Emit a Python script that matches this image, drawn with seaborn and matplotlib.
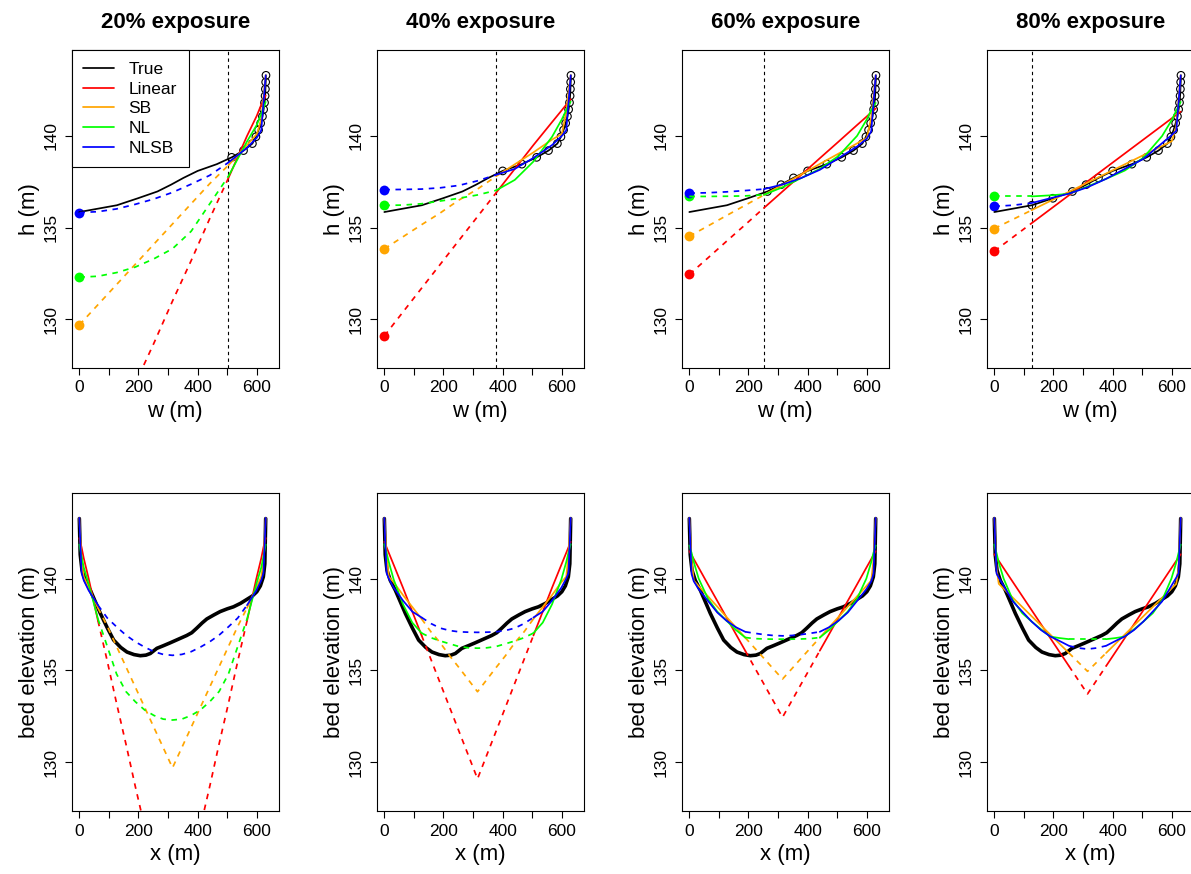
import numpy as np
import pandas as pd
import matplotlib
matplotlib.use("Agg")
import matplotlib.pyplot as plt
import seaborn as sns

sns.set_style("ticks")
plt.rcParams['font.family'] = ['Liberation Sans', 'DejaVu Sans']
plt.rcParams['axes.edgecolor'] = 'black'
plt.rcParams['text.color'] = 'black'
plt.rcParams['axes.labelcolor'] = 'black'
plt.rcParams['xtick.color'] = 'black'
plt.rcParams['ytick.color'] = 'black'

# ---------------- data ----------------
exposures = ["20% exposure", "40% exposure", "60% exposure", "80% exposure"]
thresholds = [504, 378, 252, 126]          # lower limit of observed width (m)
channel_center = 315                       # half of the 630 m channel

# true width-height relation (observed points)
true_w = [0, 127, 198, 264, 310, 352, 400, 465, 515, 555, 585, 597, 606, 613,
          619, 623, 626, 628, 629, 630, 631]
true_h = [135.85, 136.22, 136.60, 136.97, 137.34, 137.71, 138.09, 138.46, 138.83,
          139.20, 139.58, 139.95, 140.32, 140.69, 141.06, 141.44, 141.81, 142.18,
          142.55, 142.93, 143.30]

# true bed profile
prof_x = [0, 3, 9, 20, 37, 55, 71, 95, 116, 140, 161, 185, 206, 225, 240, 262, 285,
          307, 335, 363, 380, 397, 415, 431, 455, 476, 500, 521, 545, 566, 585, 600,
          612, 622, 627, 630]
prof_z = [143.26, 141.3, 140.45, 139.9, 139.37, 138.7, 138.1, 137.3, 136.65, 136.25,
          136.0, 135.86, 135.8, 135.83, 135.92, 136.2, 136.35, 136.5, 136.7, 136.9,
          137.05, 137.3, 137.58, 137.8, 138.02, 138.2, 138.35, 138.46, 138.65, 138.86,
          139.05, 139.28, 139.6, 140.09, 140.8, 143.26]

# model width grid
w_grid = [0, 63, 126, 189, 252, 315, 378, 441, 504, 567, 600, 615, 630]

linear_20 = [119.8, 122.0, 124.3, 126.5, 128.7, 131.0, 133.2, 135.5, 137.7, 140.0, 141.1, 141.7, 142.2]
sb_20 = [129.7, 130.8, 131.9, 133.0, 134.1, 135.2, 136.3, 137.4, 138.4, 139.5, 140.1, 140.9, 143.3]
nl_20 = [132.3, 132.35, 132.55, 132.85, 133.3, 133.85, 134.8, 136.3, 137.8, 139.7, 140.6, 141.2, 141.85]
nlsb_20 = [135.82, 135.87, 136.02, 136.27, 136.56, 136.92, 137.37, 137.85, 138.55, 139.35, 139.9, 140.3, 143.3]

linear_40 = [129.1, 130.4, 131.7, 133.0, 134.3, 135.6, 136.9, 138.2, 139.5, 140.75, 141.4, 141.7, 142.0]
sb_40 = [133.84, 134.5, 135.16, 135.8, 136.5, 137.1, 137.8, 138.45, 139.1, 139.8, 140.1, 141.3, 143.3]
nl_40 = [136.21, 136.23, 136.3, 136.45, 136.6, 136.78, 137.03, 137.6, 138.6, 139.95, 140.9, 141.4, 141.87]
nlsb_40 = [137.07, 137.08, 137.1, 137.17, 137.3, 137.55, 137.88, 138.2, 138.8, 139.5, 140.0, 140.3, 143.3]

linear_60 = [132.45, 133.35, 134.26, 135.16, 136.07, 136.97, 137.87, 138.78, 139.68, 140.59, 141.06, 141.28, 141.49]
sb_60 = [134.53, 135.09, 135.66, 136.22, 136.78, 137.34, 137.9, 138.47, 139.03, 139.59, 139.89, 141.0, 143.3]
nl_60 = [136.7, 136.7, 136.71, 136.73, 136.79, 137.2, 137.7, 138.2, 138.9, 140.0, 140.9, 141.4, 141.8]
nlsb_60 = [136.88, 136.9, 136.95, 137.02, 137.1, 137.35, 137.7, 138.15, 138.78, 139.42, 139.85, 140.25, 143.3]

linear_80 = [133.72, 134.48, 135.24, 136.0, 136.76, 137.52, 138.28, 139.04, 139.8, 140.56, 140.96, 141.14, 141.32]
sb_80 = [134.95, 135.45, 135.95, 136.45, 136.95, 137.45, 137.95, 138.45, 138.95, 139.45, 139.71, 140.54, 143.3]
nl_80 = [136.7, 136.7, 136.7, 136.76, 136.84, 137.24, 137.66, 138.11, 138.81, 139.99, 140.87, 141.37, 141.85]
nlsb_80 = [136.16, 136.22, 136.34, 136.6, 136.85, 137.2, 137.66, 138.2, 138.75, 139.6, 140.05, 140.28, 143.3]

model_names = ["Linear", "SB", "NL", "NLSB"]
model_colors = ["#FF0000", "#FFA500", "#00FF00", "#0000FF"]
panel_models = [
    [linear_20, sb_20, nl_20, nlsb_20],
    [linear_40, sb_40, nl_40, nlsb_40],
    [linear_60, sb_60, nl_60, nlsb_60],
    [linear_80, sb_80, nl_80, nlsb_80],
]

# ---------------- layout ----------------
FW, FH = 1191, 874
fig = plt.figure(figsize=(FW / 100, FH / 100), dpi=100)
lefts = [71.5, 376.5, 681.5, 986.5]
aw = 207.5
rows = [(50, 368), (492.5, 811)]
XLIM = (-26.5, 675)
YLIM = (127.35, 144.68)
LW = 1.25
DASH = (0, (3.2, 3.2))


def make_ax(l, t, b):
    return fig.add_axes([l / FW, 1 - b / FH, aw / FW, (b - t) / FH])


def style_ax(ax, xlabel, ylabel):
    ax.set_xlim(*XLIM)
    ax.set_ylim(*YLIM)
    ax.set_xticks([0, 100, 200, 300, 400, 500, 600])
    ax.set_xticklabels(['0', '', '200', '', '400', '', '600'])
    ax.set_yticks([130, 135, 140])
    ax.set_yticklabels(['130', '135', '140'], rotation=90, va='center')
    ax.tick_params(direction='out', length=5, width=0.8, labelsize=12.5)
    ax.tick_params(axis='x', pad=4)
    ax.tick_params(axis='y', pad=4)
    for s in ax.spines.values():
        s.set_linewidth(0.8)
        s.set_color('black')
    ax.set_xlabel(xlabel, fontsize=16, labelpad=4)
    ax.set_ylabel(ylabel, fontsize=16, labelpad=3)
    ax.grid(False)


for i in range(4):
    thr = thresholds[i]
    # ---------- top: h vs w ----------
    ax = make_ax(lefts[i], *rows[0])
    obs_w = [w for w in true_w if w >= thr]
    obs_h = [h for w, h in zip(true_w, true_h) if w >= thr]
    sns.scatterplot(x=obs_w, y=obs_h, s=30, color='black', marker='o', linewidth=0.8, ax=ax)
    ax.collections[-1].set_facecolor('none')
    ax.collections[-1].set_edgecolor('black')
    sns.lineplot(x=true_w, y=true_h, color='black', lw=LW, sort=False, estimator=None, ax=ax,
                 label='True' if i == 0 else None)
    ax.axvline(thr, color='black', lw=0.8, ls=(0, (3, 3)))
    for name, col, hv in zip(model_names, model_colors, panel_models[i]):
        ws = [w for w in w_grid if w >= thr]
        hs = [h for w, h in zip(w_grid, hv) if w >= thr]
        wd = [w for w in w_grid if w <= thr]
        hd = [h for w, h in zip(w_grid, hv) if w <= thr]
        sns.lineplot(x=ws, y=hs, color=col, lw=LW, sort=False, estimator=None, ax=ax,
                     label=name if i == 0 else None)
        sns.lineplot(x=wd, y=hd, color=col, lw=LW, linestyle=DASH, sort=False,
                     estimator=None, ax=ax)
        sns.scatterplot(x=[w_grid[0]], y=[hv[0]], color=col, s=50, linewidth=0, ax=ax)
    style_ax(ax, "w (m)", "h (m)")
    ax.set_title(exposures[i], fontsize=16, fontweight='bold', pad=16)
    if i == 0:
        leg = ax.legend(loc='upper left', bbox_to_anchor=(0, 1), borderaxespad=0,
                        frameon=True, fancybox=False, edgecolor='black', framealpha=1,
                        fontsize=12.5, handlelength=1.75, handletextpad=0.85,
                        labelspacing=0.26, borderpad=0.68)
        leg.get_frame().set_linewidth(0.8)
    else:
        if ax.get_legend():
            ax.get_legend().remove()

    # ---------- bottom: cross-section ----------
    axb = make_ax(lefts[i], *rows[1])
    sns.lineplot(x=prof_x, y=prof_z, color='black', lw=2.6, sort=False, estimator=None, ax=axb)
    for name, col, hv in zip(model_names, model_colors, panel_models[i]):
        ws = np.array([w for w in w_grid if w >= thr], dtype=float)
        hs = np.array([h for w, h in zip(w_grid, hv) if w >= thr])
        wd = np.array([w for w in w_grid if w <= thr], dtype=float)
        hd = np.array([h for w, h in zip(w_grid, hv) if w <= thr])
        # left and right banks (solid)
        sns.lineplot(x=channel_center - ws / 2, y=hs, color=col, lw=LW, sort=False,
                     estimator=None, ax=axb)
        sns.lineplot(x=channel_center + ws / 2, y=hs, color=col, lw=LW, sort=False,
                     estimator=None, ax=axb)
        # extrapolated part (dashed)
        xd = np.concatenate([channel_center - wd[::-1] / 2, channel_center + wd[1:] / 2])
        yd = np.concatenate([hd[::-1], hd[1:]])
        sns.lineplot(x=xd, y=yd, color=col, lw=LW, linestyle=DASH, sort=False,
                     estimator=None, ax=axb)
    style_ax(axb, "x (m)", "bed elevation (m)")

fig.savefig("out.png", dpi=100)
